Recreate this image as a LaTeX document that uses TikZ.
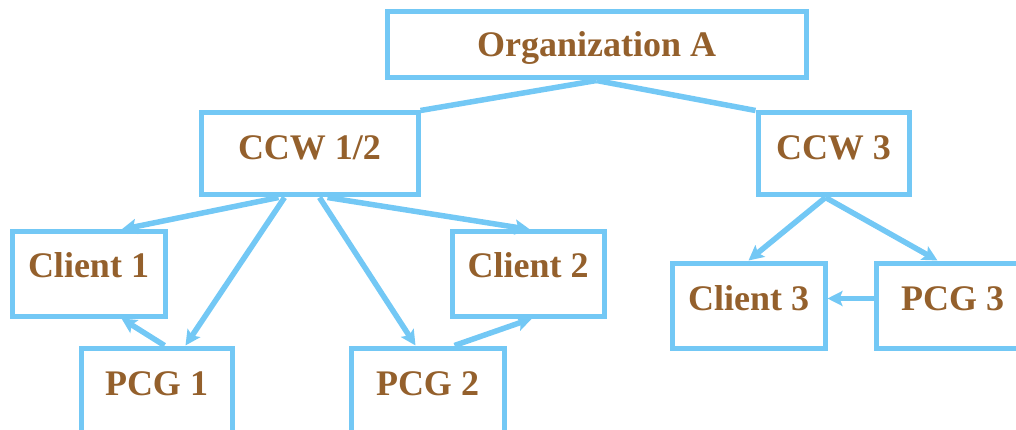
\documentclass[tikz,border=0pt]{standalone}
\usepackage{fontspec}
\setmainfont{Liberation Serif}
\usetikzlibrary{arrows.meta,calc}
\definecolor{bx}{RGB}{115,200,245}
\definecolor{tx}{RGB}{148,96,44}
\begin{document}
\begin{tikzpicture}[x=1pt,y=-1pt,
  box/.style={draw=bx,line width=5pt,inner sep=0pt,minimum height=84pt,minimum width=153pt},
  lbl/.style={text=tx,font=\fontsize{36}{40}\selectfont\bfseries,inner sep=0pt,anchor=base},
  link/.style={draw=bx,line width=5.5pt},
  arr/.style={link,-{Stealth[length=15pt,width=15pt,inset=3pt]}}]
\useasboundingbox (0,0) rectangle (1016,430);
\begin{scope}
\clip (0,0) rectangle (1016,430);
% boxes
\node[box,minimum width=419pt,minimum height=66pt] (org) at (596.5,45) {};
\node[box,minimum width=217pt,minimum height=82pt] (ccw12) at (309.5,154) {};
\node[box,minimum width=151pt,minimum height=82pt] (ccw3) at (833.5,154) {};
\node[box] (c1) at (88.5,274) {};
\node[box,minimum width=152pt] (c2) at (528,274) {};
\node[box,minimum width=151pt] (p1) at (156.5,390) {};
\node[box] (p2) at (427.5,390) {};
\node[box,minimum height=85pt] (c3) at (748.5,305.5) {};
\node[box,minimum height=85pt] (p3) at (952.5,305.5) {};
% labels
\node[lbl] (torg) at (596.5,57) {Organization A};
\node[lbl] (tccw12) at (309.5,160) {CCW 1/2};
\node[lbl] (tccw3) at (833.5,160) {CCW 3};
\node[lbl] (tc1) at (88.5,277) {Client 1};
\node[lbl] (tc2) at (528,277) {Client 2};
\node[lbl] (tp1) at (156.5,395) {PCG 1};
\node[lbl] (tp2) at (427.5,395) {PCG 2};
\node[lbl] (tc3) at (748.5,310) {Client 3};
\node[lbl] (tp3) at (952.5,310) {PCG 3};
% connectors
\draw[link] (org.south) -- (ccw12.north east);
\draw[link] (org.south) -- (ccw3.north west);
\draw[arr] ($(ccw12.south)+(-31,0)$) -- ($(c1.north)+(33,0)$);
\draw[arr] ($(ccw12.south)+(-25,0)$) -- ($(p1.north)+(29,0)$);
\draw[arr] ($(ccw12.south)+(10,0)$) -- ($(p2.north)+(-12,0)$);
\draw[arr] ($(ccw12.south)+(18,0)$) -- ($(c2.north)+(2,0)$);
\draw[arr] ($(p1.north)+(8,0)$) -- ($(c1.south)+(33,0)$);
\draw[arr] ($(p2.north)+(27,0)$) -- ($(c2.south)+(4,0)$);
\draw[arr] ($(ccw3.south)+(-8,0)$) -- (c3.north);
\draw[arr] ($(ccw3.south)+(-8,0)$) -- ($(p3.north)+(-15,0)$);
\draw[arr] ($(p3.west)+(0,-7)$) -- ($(c3.east)+(0,-7)$);
\end{scope}
\end{tikzpicture}
\end{document}
